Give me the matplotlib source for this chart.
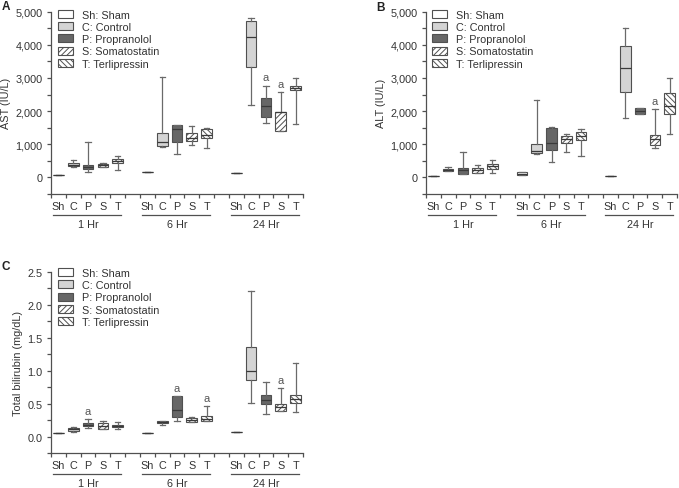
import matplotlib
matplotlib.use('Agg')
import matplotlib.pyplot as plt
from matplotlib.patches import Patch
from matplotlib.ticker import FixedLocator, FuncFormatter
from matplotlib.transforms import blended_transform_factory, ScaledTranslation

plt.rcParams['font.family'] = ['Liberation Sans', 'DejaVu Sans']
plt.rcParams['hatch.linewidth'] = 0.7

groups = ['1 Hr', '6 Hr', '24 Hr']
treatments = ['Sh', 'C', 'P', 'S', 'T']
legend_labels = ['Sh: Sham', 'C: Control', 'P: Propranolol', 'S: Somatostatin', 'T: Terlipressin']

# AST (IU/L): order 1 Hr (Sh,C,P,S,T), 6 Hr (...), 24 Hr (...)
ast_whislo = [80, 300, 175, 300, 225, 150, 930, 720, 975, 895, 120, 2180, 1640, 1390, 1610]
ast_q1 = [80, 340, 250, 310, 440, 150, 955, 1075, 1085, 1175, 120, 3320, 1830, 1400, 2645]
ast_med = [80, 380, 320, 360, 492, 150, 1055, 1460, 1190, 1290, 120, 4250, 2150, 1960, 2700]
ast_q3 = [80, 440, 380, 415, 552, 150, 1355, 1580, 1350, 1460, 120, 4730, 2395, 1982, 2745]
ast_whishi = [80, 520, 1055, 440, 634, 150, 3040, 1580, 1560, 1480, 120, 4820, 2767, 2565, 2990]
ast_sig = [12, 13]

# ALT (IU/L)
alt_whislo = [50, 190, 100, 120, 140, 70, 700, 470, 755, 660, 50, 1800, 1900, 875, 1318]
alt_q1 = [50, 190, 115, 140, 250, 70, 725, 835, 1036, 1127, 50, 2565, 1900, 986, 1900]
alt_med = [50, 220, 211, 215, 332, 110, 785, 1026, 1157, 1258, 50, 3300, 2000, 1157, 2160]
alt_q3 = [50, 250, 290, 290, 411, 150, 1000, 1489, 1247, 1378, 50, 3974, 2103, 1278, 2535]
alt_whishi = [50, 322, 755, 362, 532, 150, 2334, 1529, 1298, 1469, 50, 4497, 2103, 2062, 2988]
alt_sig = [13]

# Total bilirubin (mg/dL)
bil_whislo = [0.06, 0.07, 0.13, 0.11, 0.11, 0.06, 0.18, 0.23, 0.22, 0.24, 0.07, 0.51, 0.34, 0.38, 0.37]
bil_q1 = [0.06, 0.09, 0.16, 0.12, 0.15, 0.06, 0.20, 0.29, 0.22, 0.24, 0.07, 0.86, 0.50, 0.38, 0.51]
bil_med = [0.06, 0.11, 0.18, 0.16, 0.16, 0.06, 0.22, 0.40, 0.25, 0.27, 0.07, 1.00, 0.55, 0.45, 0.57]
bil_q3 = [0.06, 0.13, 0.21, 0.20, 0.17, 0.06, 0.23, 0.61, 0.28, 0.31, 0.07, 1.36, 0.63, 0.49, 0.63]
bil_whishi = [0.06, 0.14, 0.26, 0.24, 0.22, 0.06, 0.24, 0.61, 0.30, 0.46, 0.07, 2.20, 0.83, 0.73, 1.11]
bil_sig = [2, 7, 9, 13]

fills = ['white', '#d4d4d4', '#676767', 'white', 'white']
hatches = [None, None, None, '//////', '\\\\\\\\\\\\']
edge = '#505050'
whisk = '#6a6a6a'
txtc = '#333333'

W, H = 679, 489
fig = plt.figure(figsize=(W / 100, H / 100), dpi=100)

def frac(l, t, r, b):
    return [l / W, 1 - b / H, (r - l) / W, (b - t) / H]

positions = [g * 6 + i for g in range(3) for i in range(5)]
boundaries = [p - 0.5 for p in range(17)] + [16.5]

def panel(rect, whislo, q1, med, q3, whishi, sig, ylim, ystep, fmt, ylabel, letter, letterpos, legx, legy):
    ax = fig.add_axes(frac(*rect))
    stats = []
    for k in range(15):
        stats.append(dict(whislo=whislo[k], q1=q1[k], med=med[k], q3=q3[k], whishi=whishi[k], fliers=[]))
    bp = ax.bxp(stats, positions=positions, widths=0.72, capwidths=0.36, patch_artist=True,
                showfliers=False,
                boxprops=dict(edgecolor=edge, linewidth=0.8),
                medianprops=dict(color='#3a3a3a', linewidth=0.9),
                whiskerprops=dict(color=whisk, linewidth=0.9),
                capprops=dict(color=whisk, linewidth=0.9))
    for k, patch in enumerate(bp['boxes']):
        t = k % 5
        patch.set_facecolor(fills[t])
        if hatches[t]:
            patch.set_hatch(hatches[t])
    for k in sig:
        ax.annotate('a', (positions[k], whishi[k]), xytext=(0, 2.5), textcoords='offset points',
                    ha='center', va='bottom', fontsize=8, color='#555555')
    ax.set_xlim(-0.5, 16.5)
    ax.set_ylim(*ylim)
    for s in ['top', 'right']:
        ax.spines[s].set_visible(False)
    for s in ['left', 'bottom']:
        ax.spines[s].set_color(edge)
        ax.spines[s].set_linewidth(0.9)
    ax.xaxis.set_major_locator(FixedLocator(boundaries))
    ax.xaxis.set_major_formatter(FuncFormatter(lambda v, p: ''))
    ax.set_xticks(positions, labels=treatments * 3, minor=True)
    ax.tick_params(axis='x', which='major', length=3, width=0.9, color=edge, direction='out')
    ax.tick_params(axis='x', which='minor', length=0, pad=5, labelsize=7.8, labelcolor=txtc)
    n = int(round((ylim[1] - ylim[0]) / ystep))
    yt = [ylim[0] + i * ystep for i in range(n + 1)]
    ax.yaxis.set_major_locator(FixedLocator(yt))
    ax.yaxis.set_major_formatter(FuncFormatter(fmt))
    ax.tick_params(axis='y', length=3, width=0.9, color=edge, pad=3, labelsize=7.8, labelcolor=txtc)
    ax.set_ylabel(ylabel, fontsize=7.8, color=txtc, labelpad=3)
    base = blended_transform_factory(ax.transData, ax.transAxes)
    tline = base + ScaledTranslation(0, -0.21, fig.dpi_scale_trans)
    ttext = base + ScaledTranslation(0, -0.30, fig.dpi_scale_trans)
    for g, name in enumerate(groups):
        x0 = g * 6 - 0.35
        x1 = g * 6 + 4.25
        ax.plot([x0, x1], [0, 0], transform=tline, color=edge, linewidth=0.9, clip_on=False)
        ax.text(g * 6 + 2, 0, name, transform=ttext, ha='center', va='center', fontsize=7.8, color=txtc)
    handles = [Patch(facecolor=fills[t], edgecolor=edge, hatch=hatches[t], linewidth=0.8) for t in range(5)]
    ax.legend(handles, legend_labels, loc='upper left', bbox_to_anchor=(legx, legy), frameon=False,
              fontsize=7.8, labelcolor=txtc, borderpad=0, borderaxespad=0, labelspacing=0.2,
              handlelength=1.4, handleheight=0.75, handletextpad=0.85)
    fig.text(letterpos[0] / W, 1 - letterpos[1] / H, letter, fontsize=8.5, fontweight='bold',
             color='#222222', ha='left', va='top')
    return ax

def fmt_k(v, p):
    if abs(v % 1000) < 1e-6:
        return f'{int(v):,}'
    return ''

def fmt_b(v, p):
    if abs((v / 0.5) - round(v / 0.5)) < 1e-6:
        return f'{v:.1f}'
    return ''

panel((51, 12.7, 303, 195), ast_whislo, ast_q1, ast_med, ast_q3, ast_whishi, ast_sig,
      (-500, 5000), 500, fmt_k, 'AST (IU/L)', 'A', (2, 1), 0.028, 1.01)
panel((426, 12.7, 677, 195), alt_whislo, alt_q1, alt_med, alt_q3, alt_whishi, alt_sig,
      (-500, 5000), 500, fmt_k, 'ALT (IU/L)', 'B', (376, 2), 0.023, 1.01)
panel((51, 272.7, 303, 454), bil_whislo, bil_q1, bil_med, bil_q3, bil_whishi, bil_sig,
      (-0.25, 2.5), 0.25, fmt_b, 'Total bilirubin (mg/dL)', 'C', (2, 261), 0.028, 1.02)

fig.savefig('out.png', dpi=100)
